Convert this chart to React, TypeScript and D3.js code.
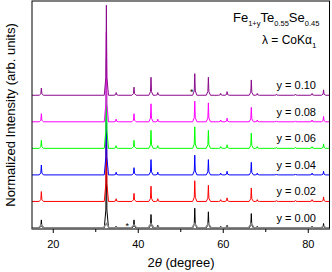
import React from "react";
import * as d3 from "d3";

// Peak positions (2θ, degree) shared by all patterns
const peakPositions = [17.2, 32.5, 34.8, 39.0, 43.0, 44.6, 53.3, 56.5, 59.4, 60.9, 66.6, 68.0, 72.5, 77.0, 80.9, 83.6];

// Normalized peak heights for each composition
const heights000 = [0.09, 1.0, 0.02, 0.09, 0.15, 0.03, 0.22, 0.18, 0.02, 0.03, 0.16, 0.02, 0.01, 0.01, 0.02, 0.05];
const heights002 = [0.11, 1.0, 0.03, 0.09, 0.17, 0.03, 0.23, 0.18, 0.02, 0.04, 0.15, 0.02, 0.01, 0.01, 0.02, 0.05];
const heights004 = [0.11, 1.0, 0.03, 0.08, 0.17, 0.03, 0.22, 0.17, 0.02, 0.04, 0.14, 0.02, 0.01, 0.01, 0.02, 0.04];
const heights006 = [0.09, 1.0, 0.03, 0.09, 0.2, 0.03, 0.24, 0.2, 0.02, 0.04, 0.17, 0.02, 0.01, 0.01, 0.02, 0.05];
const heights008 = [0.09, 1.0, 0.03, 0.09, 0.2, 0.03, 0.23, 0.21, 0.02, 0.04, 0.16, 0.02, 0.01, 0.01, 0.02, 0.06];
const heights010 = [0.08, 1.0, 0.03, 0.09, 0.2, 0.03, 0.24, 0.2, 0.02, 0.04, 0.17, 0.02, 0.01, 0.01, 0.02, 0.06];

const seriesHeights = [heights000, heights002, heights004, heights006, heights008, heights010];
const seriesLabels = ["y = 0.00", "y = 0.02", "y = 0.04", "y = 0.06", "y = 0.08", "y = 0.10"];
const seriesColors = ["#000000", "#ff0000", "#0000ff", "#00ff00", "#ff00ff", "#8b0a8b"];
const seriesOffsets = [0, 0.295, 0.59, 0.885, 1.18, 1.475];

// impurity markers (2θ, series index)
const starPositions = [37.4, 52.6];
const starSeries = [0, 5];

const xTicksMajor = [20, 40, 60, 80];
const xTicksMinor = [30, 50, 70];

const W = 332;
const H = 272;
const left = 32;
const right = 329.5;
const top = 1;
const bottom = 229;

export default function App() {
  const x = d3.scaleLinear().domain([15, 85]).range([left, right]);
  const y = d3.scaleLinear().domain([0, 2.5]).range([228, 3]);

  const buildPoints = (hs: number[], off: number, w1: number, w2: number, frac: number, cap?: number) => {
    const pts: [number, number][] = [[15, off]];
    peakPositions.forEach((p, i) => {
      let h = hs[i];
      if (cap !== undefined) h = Math.min(h * 0.4, cap);
      pts.push([p - w2, off]);
      pts.push([p - w1, off + h * frac]);
      pts.push([p, off + h]);
      pts.push([p + w1, off + h * frac]);
      pts.push([p + w2, off]);
    });
    pts.push([85, off]);
    return pts;
  };

  const line = d3
    .line<[number, number]>()
    .x((d) => x(d[0]))
    .y((d) => y(d[1]));

  const font = "Liberation Sans, Arial, sans-serif";

  return (
    <svg
      width={W}
      height={H}
      style={{ position: "fixed", left: 0, top: 0, background: "#fff" }}
      fontFamily={font}
    >
      <rect x={0} y={0} width={W} height={H} fill="#fff" />
      {seriesHeights.map((hs, i) => (
        <g key={i}>
          <path
            d={line(buildPoints(hs, seriesOffsets[i], 0.12, 0.5, 0.2)) || ""}
            fill="none"
            stroke={seriesColors[i]}
            strokeWidth={1}
          />
          {i === 0 && (
            <path
              d={line(buildPoints(hs, seriesOffsets[i], 0.35, 0.7, 0.5, 0.05)) || ""}
              fill="none"
              stroke="#8a8a8a"
              strokeWidth={1.4}
            />
          )}
        </g>
      ))}
      {seriesLabels.map((s, i) => (
        <text key={s} x={316} y={y(seriesOffsets[i]) - 6} fontSize={11} textAnchor="end" fill="#000">
          {s}
        </text>
      ))}
      {starPositions.map((p, i) => (
        <text
          key={p}
          x={x(p)}
          y={y(seriesOffsets[starSeries[i]]) + (i === 0 ? 1 : 0)}
          fontSize={9}
          textAnchor="middle"
          fill="#000"
        >
          *
        </text>
      ))}
      {/* frame */}
      <rect x={left} y={top} width={right - left} height={bottom - top} fill="none" stroke="#000" strokeWidth={1} />
      <line x1={left} x2={right} y1={bottom} y2={bottom} stroke="#777" strokeWidth={1.5} />
      {xTicksMajor.map((t) => (
        <g key={t}>
          <line x1={x(t)} x2={x(t)} y1={bottom} y2={bottom + 4} stroke="#000" />
          <text x={x(t)} y={bottom + 19} fontSize={11} textAnchor="middle" fill="#000">
            {t}
          </text>
        </g>
      ))}
      {xTicksMinor.map((t) => (
        <line key={t} x1={x(t)} x2={x(t)} y1={bottom} y2={bottom + 3} stroke="#000" />
      ))}
      <text x={181} y={267} fontSize={13} textAnchor="middle" fill="#000">
        2<tspan fontStyle="italic">θ</tspan> (degree)
      </text>
      <text
        transform={`translate(15,115) rotate(-90)`}
        fontSize={13}
        textAnchor="middle"
        fill="#000"
      >
        Normalized Intensity (arb. units)
      </text>
      <text x={233} y={22} fontSize={13} fill="#000">
        Fe<tspan fontSize={7.5} dy={4}>1+y</tspan>
        <tspan dy={-4}>Te</tspan>
        <tspan fontSize={7.5} dy={4}>0.55</tspan>
        <tspan dy={-4}>Se</tspan>
        <tspan fontSize={7.5} dy={4}>0.45</tspan>
      </text>
      <text x={262} y={44} fontSize={12} fill="#000">
        λ = CoKα<tspan fontSize={8} dy={4}>1</tspan>
      </text>
    </svg>
  );
}
